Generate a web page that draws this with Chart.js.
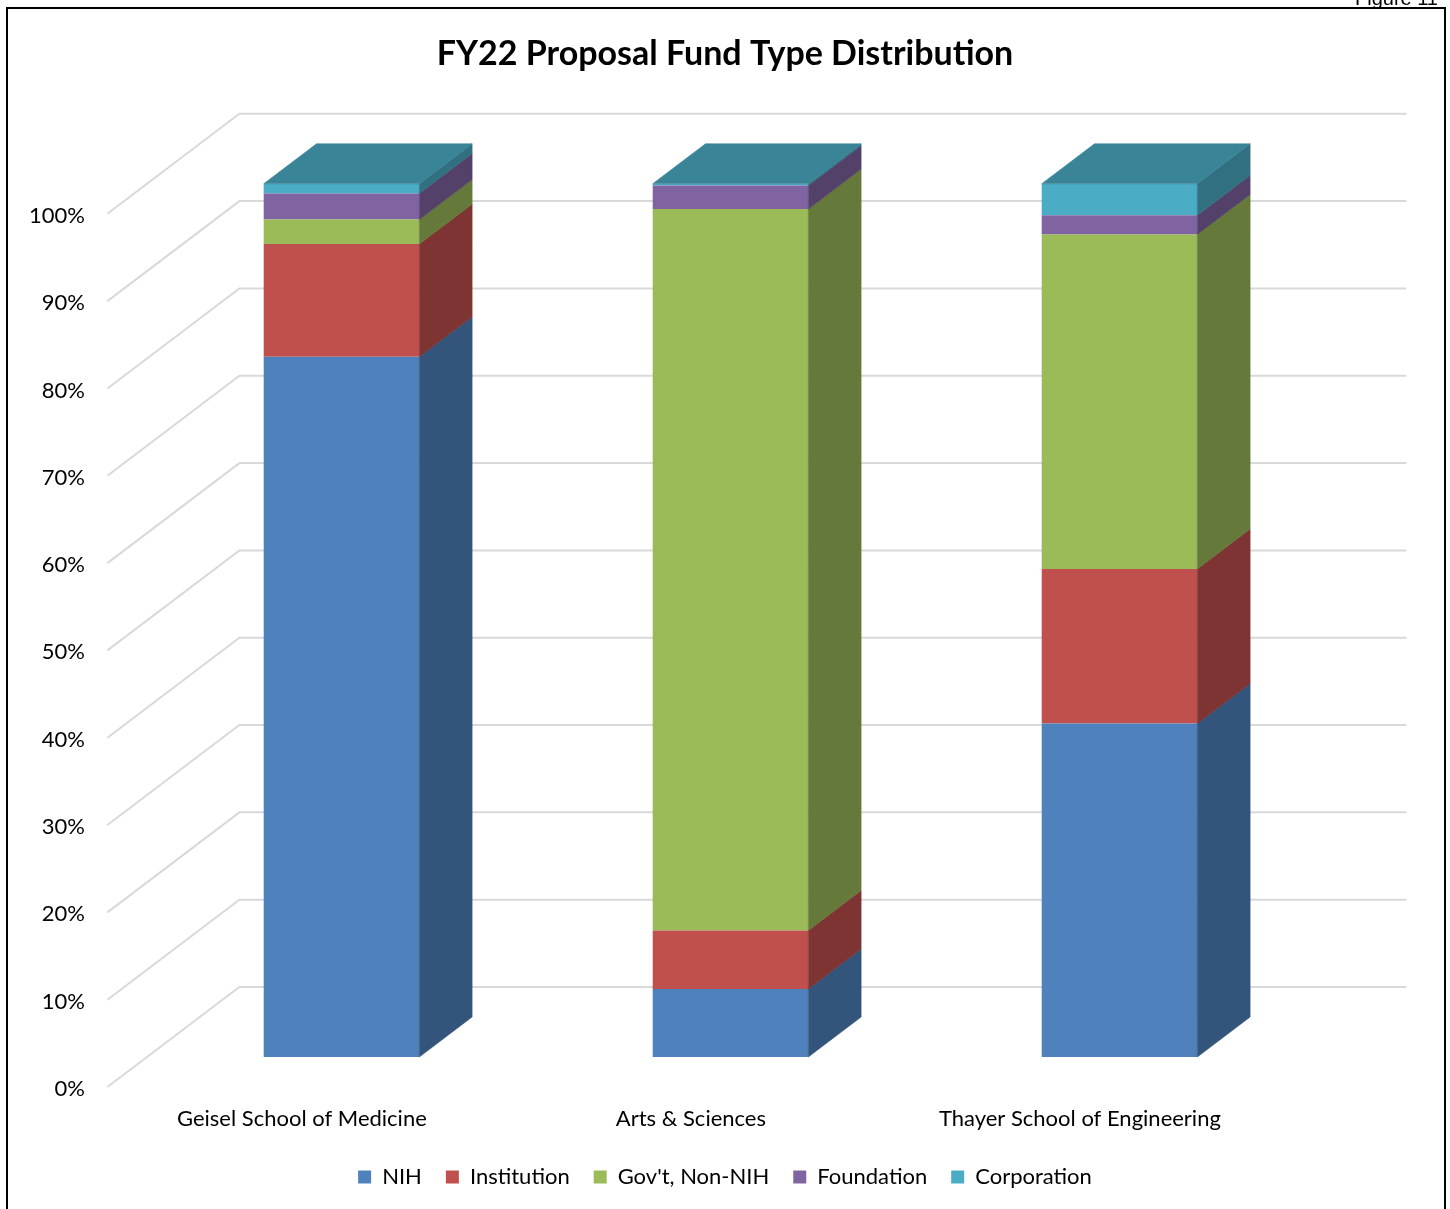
<!DOCTYPE html>
<html>
<head>
<meta charset="utf-8">
<title>FY22 Proposal Fund Type Distribution</title>
<script src="https://cdn.jsdelivr.net/npm/chart.js@4.4.1/dist/chart.umd.min.js"></script>
<style>
  html, body { margin: 0; padding: 0; background: #fff; overflow: hidden; }
  #wrap { position: relative; width: 1450px; height: 1209px; }
  #wrap canvas { position: absolute; left: 0; top: 0; }
  #frame { position: absolute; left: 6px; top: 7px; width: 1436px; height: 1260px; border: 2px solid #000; pointer-events: none; }
  #fig { position: absolute; right: 12px; top: -13px; font: 20px "Liberation Sans", Arial, sans-serif; color: #000; }
</style>
</head>
<body>
<div id="wrap">
  <canvas id="mychart" width="1450" height="1209"></canvas>
  <div id="frame"></div>
  <div id="fig">Figure 11</div>
</div>
<script>
// data (percent of proposals per school)
const categories = ['Geisel School of Medicine', 'Arts & Sciences', 'Thayer School of Engineering'];
const seriesNames = ['NIH', 'Institution', "Gov't, Non-NIH", 'Foundation', 'Corporation'];
const nih = [80.2, 7.8, 38.2];
const institution = [12.9, 6.7, 17.7];
const govNonNih = [2.8, 82.6, 38.3];
const foundation = [3.0, 2.7, 2.2];
const corporation = [1.1, 0.2, 3.6];
const yTickLabels = ['0%', '10%', '20%', '30%', '40%', '50%', '60%', '70%', '80%', '90%', '100%'];

const colors = ['#4F81BD', '#C0504D', '#9BBB59', '#8064A2', '#4BACC6'];

// fake 3d: floor depth in pixels, bars sit between FRONT and BACK of it
const DX = 132, DY = 100;
const FRONT = 0.3, BACK = 0.7;

function shade(hex, f) {
  const n = parseInt(hex.slice(1), 16);
  const r = Math.round(((n >> 16) & 255) * f);
  const g = Math.round(((n >> 8) & 255) * f);
  const b = Math.round((n & 255) * f);
  return 'rgb(' + r + ',' + g + ',' + b + ')';
}

function poly(ctx, pts, fill) {
  ctx.fillStyle = fill;
  ctx.strokeStyle = fill;
  ctx.lineWidth = 0.6;
  ctx.beginPath();
  ctx.moveTo(pts[0][0], pts[0][1]);
  for (let k = 1; k < pts.length; k++) ctx.lineTo(pts[k][0], pts[k][1]);
  ctx.closePath();
  ctx.fill();
  ctx.stroke();
}

const threeD = {
  id: 'threeD',
  beforeDatasetsDraw(chart) {
    const {ctx, chartArea: a, scales: {y}} = chart;
    ctx.save();
    ctx.strokeStyle = '#d9d9d9';
    ctx.lineWidth = 2;
    y.ticks.forEach(t => {
      const py = y.getPixelForValue(t.value);
      ctx.beginPath();
      ctx.moveTo(a.left - DX * FRONT, py + DY * FRONT);
      ctx.lineTo(a.left + DX * (1 - FRONT), py - DY * (1 - FRONT));
      ctx.lineTo(a.right + DX * (1 - FRONT), py - DY * (1 - FRONT));
      ctx.stroke();
    });
    ctx.restore();
  },
  afterDatasetsDraw(chart) {
    const ctx = chart.ctx;
    const bx = DX * (BACK - FRONT), by = DY * (BACK - FRONT);
    ctx.save();
    chart.data.labels.forEach((_, i) => {
      let top = null;
      chart.data.datasets.forEach((ds, d) => {
        if (!ds.data[i]) return;
        const bar = chart.getDatasetMeta(d).data[i].getProps(['x', 'y', 'base', 'width'], true);
        const r = bar.x + bar.width / 2;
        poly(ctx, [[r, bar.y], [r + bx, bar.y - by], [r + bx, bar.base - by], [r, bar.base]], shade(ds.backgroundColor, 0.65));
        top = {bar, ds};
      });
      if (top) {
        const b = top.bar, l = b.x - b.width / 2, r = b.x + b.width / 2;
        poly(ctx, [[l, b.y], [r, b.y], [r + bx, b.y - by], [l + bx, b.y - by]], shade(top.ds.backgroundColor, 0.77));
      }
    });
    ctx.restore();
  }
};

Chart.defaults.font.family = 'Lato';
Chart.defaults.color = '#000';

const seriesData = [nih, institution, govNonNih, foundation, corporation];
const canvas = document.getElementById('mychart');
new Chart(canvas, {
  type: 'bar',
  data: {
    labels: categories,
    datasets: seriesNames.map((name, k) => ({
      label: name,
      data: seriesData[k],
      backgroundColor: colors[k],
      borderWidth: 0,
      barPercentage: 0.4,
      categoryPercentage: 1
    }))
  },
  options: {
    responsive: false,
    animation: false,
    layout: { padding: { left: 0, right: 0, top: 0, bottom: 11 } },
    plugins: {
      title: {
        display: true,
        text: 'FY22 Proposal Fund Type Distribution',
        font: { size: 34, weight: 'bold' },
        color: '#000',
        padding: { top: 34, bottom: 109 }
      },
      legend: {
        position: 'bottom',
        labels: { font: { size: 22 }, boxWidth: 13, boxHeight: 13, padding: 24, color: '#000' }
      },
      tooltip: { enabled: false }
    },
    scales: {
      x: {
        stacked: true,
        grid: { display: false, drawTicks: false },
        border: { display: false },
        ticks: { font: { size: 22 }, labelOffset: -DX * FRONT, padding: 49, maxRotation: 0, autoSkip: false },
        afterFit: s => { s.height = 85; }
      },
      y: {
        stacked: true,
        min: 0,
        max: 100,
        grid: { display: false, drawTicks: false },
        border: { display: false },
        ticks: { stepSize: 10, font: { size: 22 }, labelOffset: DY * FRONT + 2, padding: 62, callback: (v, i) => yTickLabels[i] },
        afterFit: s => { s.width = 147; }
      },
      // empty room on the right for the back wall
      yRight: {
        position: 'right',
        grid: { display: false, drawTicks: false },
        border: { display: false },
        ticks: { display: false },
        afterFit: s => { s.width = 136; }
      }
    }
  },
  plugins: [threeD]
});
</script>
</body>
</html>
